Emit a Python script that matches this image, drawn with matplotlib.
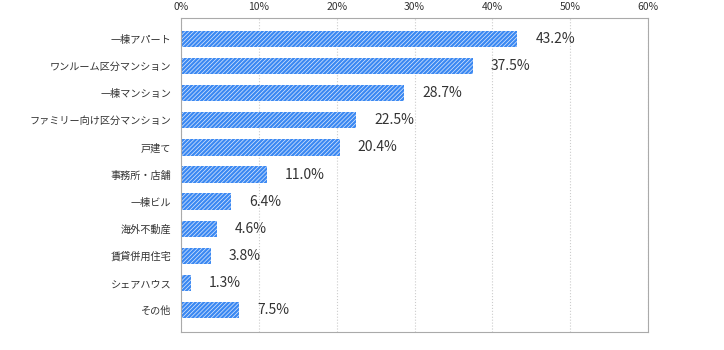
import matplotlib.pyplot as plt
import matplotlib as mpl

plt.rcParams['font.family'] = ['Noto Sans CJK JP', 'DejaVu Sans']
mpl.rcParams['hatch.color'] = '#dfeafc'
mpl.rcParams['hatch.linewidth'] = 0.5

categories = ['一棟アパート', 'ワンルーム区分マンション', '一棟マンション',
              'ファミリー向け区分マンション', '戸建て', '事務所・店舗', '一棟ビル',
              '海外不動産', '賃貸併用住宅', 'シェアハウス', 'その他']
values = [43.2, 37.5, 28.7, 22.5, 20.4, 11.0, 6.4, 4.6, 3.8, 1.3, 7.5]
ticks = [0, 10, 20, 30, 40, 50, 60]


def main():
    fig = plt.figure(figsize=(7.24, 3.5), dpi=100)
    ax = fig.add_axes([181 / 724, 18 / 350, 467 / 724, 314 / 350])

    pos = list(range(len(categories)))
    ax.barh(pos, values, height=0.6, color='#3a88f2', edgecolor='#dfeafc',
            hatch='////////', linewidth=0)

    for y, v in zip(pos, values):
        ax.annotate(f'{v:.1f}%', (v, y), xytext=(13, 0), textcoords='offset points',
                    va='center', ha='left', fontsize=10, color='#333333')

    ax.set_ylim(10.81, -0.775)
    ax.set_xlim(0, 60)
    ax.set_yticks(pos)
    ax.set_yticklabels(categories, fontsize=7.3, color='#333333')
    ax.set_xticks(ticks)
    ax.set_xticklabels([f'{t}%' for t in ticks], fontsize=7.5, color='#333333')
    ax.xaxis.tick_top()
    ax.tick_params(axis='y', length=0, pad=7)
    ax.tick_params(axis='x', length=0, pad=4)

    ax.grid(axis='x', color='#cccccc', linestyle=':', linewidth=0.8)
    ax.set_axisbelow(True)
    for s in ax.spines.values():
        s.set_color('#aaaaaa')
        s.set_linewidth(0.8)

    plt.savefig('out.png', dpi=100)


if __name__ == "__main__":
    main()
